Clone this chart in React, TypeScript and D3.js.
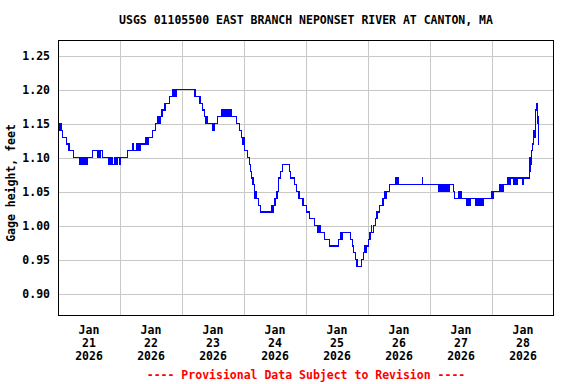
import React, { useMemo } from 'react';
import * as d3 from 'd3';

const WIDTH = 576;
const HEIGHT = 384;
const margin = { l: 58, r: 22, t: 40, b: 68 };

const title = 'USGS 01105500 EAST BRANCH NEPONSET RIVER AT CANTON, MA';
const yLabel = 'Gage height, feet';
const footer = '---- Provisional Data Subject to Revision ----';

const startDate = new Date(2026, 0, 21);
const endDate = new Date(2026, 0, 29);
const yTicks = [0.9, 0.95, 1.0, 1.05, 1.1, 1.15, 1.2, 1.25];
const yDomain = [0.867, 1.273];

// readings where the gage value changes: [hours after Jan 21 00:00, feet]
const stepHours: number[] = [];
const stepValues: number[] = [];
const steps: [number, number][] = [
  [0, 1.15], [0.25, 1.14], [0.5, 1.15], [0.75, 1.14], [1, 1.15], [1.25, 1.14],
  [1.75, 1.13], [3.25, 1.12], [4.25, 1.11], [6, 1.1],
  [8.25, 1.09], [8.5, 1.1], [8.75, 1.09], [9, 1.1], [9.25, 1.09], [9.5, 1.1], [9.75, 1.09],
  [10, 1.1], [10.25, 1.09], [10.5, 1.1], [10.75, 1.09], [11, 1.1], [11.25, 1.09], [11.5, 1.1],
  [13.25, 1.11], [15.5, 1.1], [15.75, 1.11], [16.25, 1.1], [16.5, 1.11], [17.25, 1.1],
  [19.75, 1.09], [20, 1.1], [20.25, 1.09], [20.5, 1.1], [20.75, 1.09], [21, 1.1], [21.25, 1.09],
  [21.75, 1.1], [22, 1.09], [22.25, 1.1], [22.5, 1.09], [23, 1.1],
  [24, 1.09], [24.25, 1.1], [26.75, 1.11], [29, 1.12], [29.25, 1.11],
  [30.5, 1.12], [30.75, 1.11], [31, 1.12], [31.5, 1.11], [31.75, 1.12],
  [34, 1.13], [34.25, 1.12], [34.5, 1.13], [34.75, 1.12], [35, 1.13],
  [36.5, 1.14], [37.75, 1.15],
  [38.5, 1.16], [38.75, 1.15], [39, 1.16], [39.25, 1.15], [39.5, 1.16],
  [40.25, 1.17], [41.25, 1.18], [41.5, 1.17], [41.75, 1.18], [43.25, 1.19],
  [44.5, 1.2], [44.75, 1.19], [45, 1.2], [45.25, 1.19], [45.5, 1.2], [45.75, 1.19], [46, 1.2],
  [53, 1.19], [55, 1.18], [56, 1.17], [56.75, 1.16],
  [57.25, 1.15], [57.5, 1.16], [57.75, 1.15], [60, 1.14], [60.5, 1.15], [61.75, 1.16],
  [63.5, 1.17], [63.75, 1.16], [64, 1.17], [64.5, 1.16], [64.75, 1.17], [65, 1.16], [65.25, 1.17],
  [65.5, 1.16], [65.75, 1.17], [66, 1.16], [66.25, 1.17], [66.5, 1.16], [66.75, 1.17], [67, 1.16],
  [69.25, 1.15], [70.25, 1.14], [71, 1.13], [71.5, 1.12], [71.75, 1.13], [72, 1.12],
  [72.25, 1.11], [73.5, 1.1], [74, 1.09], [74.5, 1.08], [75, 1.07], [75.5, 1.06],
  [76, 1.05], [76.25, 1.04], [76.5, 1.05], [76.75, 1.04], [77.75, 1.03], [78.5, 1.02],
  [82.5, 1.03], [82.75, 1.02], [83, 1.03], [83.25, 1.02], [83.5, 1.03],
  [84, 1.04], [84.75, 1.05], [85.25, 1.06], [85.5, 1.07], [86, 1.08], [87, 1.09],
  [89.5, 1.08], [90, 1.07], [91.5, 1.06], [92.25, 1.05],
  [93, 1.04], [93.25, 1.05], [93.5, 1.04], [94.5, 1.03], [94.75, 1.04], [95, 1.03],
  [96.25, 1.02], [97.5, 1.01], [99.25, 1.0],
  [100.5, 0.99], [100.75, 1.0], [101, 0.99], [101.25, 1.0], [101.5, 0.99],
  [103.25, 0.98], [105.25, 0.97], [108.5, 0.98], [109.5, 0.99], [109.75, 0.98], [110, 0.99],
  [113.25, 0.98], [114, 0.97], [114.5, 0.96], [115.25, 0.95], [115.75, 0.94], [117.5, 0.95],
  [118.25, 0.96], [118.5, 0.97], [118.75, 0.96], [119, 0.97], [119.25, 0.96], [119.5, 0.97],
  [120.25, 0.98], [120.75, 0.99], [121.25, 1.0], [121.5, 0.99], [122, 1.0],
  [122.75, 1.01], [123.5, 1.02], [124.5, 1.03], [125.5, 1.04], [125.75, 1.03], [126, 1.04],
  [126.25, 1.05], [126.5, 1.04], [126.75, 1.05], [127, 1.04], [127.25, 1.05], [128.25, 1.06],
  [130.75, 1.07], [131, 1.06], [131.5, 1.07], [131.75, 1.06], [141, 1.07], [141.25, 1.06],
  [147.5, 1.05], [147.75, 1.06], [148, 1.05], [148.25, 1.06], [148.5, 1.05], [148.75, 1.06],
  [149, 1.05], [149.25, 1.06], [149.5, 1.05], [149.75, 1.06], [150, 1.05], [150.25, 1.06],
  [150.5, 1.05], [150.75, 1.06], [151, 1.05], [151.5, 1.06],
  [153, 1.05], [153.5, 1.04], [155, 1.05], [155.25, 1.04], [155.75, 1.05], [156, 1.04],
  [158, 1.03], [158.25, 1.04], [158.5, 1.03], [158.75, 1.04], [159, 1.03], [159.25, 1.04],
  [159.5, 1.03], [159.75, 1.04],
  [161.5, 1.03], [161.75, 1.04], [162, 1.03], [162.25, 1.04], [162.5, 1.03], [163, 1.04],
  [163.25, 1.03], [163.5, 1.04], [163.75, 1.03], [164, 1.04], [164.25, 1.03], [164.5, 1.04],
  [168, 1.05], [168.25, 1.04], [168.5, 1.05],
  [170.75, 1.06], [171, 1.05], [171.25, 1.06], [171.5, 1.05], [171.75, 1.06], [172, 1.05], [172.25, 1.06],
  [174, 1.07], [174.25, 1.06], [174.5, 1.07], [174.75, 1.06], [175, 1.07],
  [176.5, 1.06], [176.75, 1.07], [177, 1.06], [177.25, 1.07], [177.5, 1.06], [177.75, 1.07],
  [180, 1.06], [180.25, 1.07],
  [182.5, 1.1], [182.75, 1.08], [183, 1.09], [183.25, 1.11], [183.75, 1.12], [184, 1.14],
  [184.5, 1.13], [184.75, 1.17], [185.25, 1.18], [185.5, 1.15], [185.75, 1.16], [186, 1.12],
  [186.25, 1.12],
];
steps.forEach(([h, v]) => {
  stepHours.push(h);
  stepValues.push(v);
});

const FONT = '"DejaVu Sans Mono", "Liberation Mono", monospace';

const App = () => {
  const innerW = WIDTH - margin.l - margin.r;
  const innerH = HEIGHT - margin.t - margin.b;

  const xScale = useMemo(
    () => d3.scaleTime().domain([startDate, endDate]).range([margin.l, margin.l + innerW]),
    [innerW]
  );
  const yScale = useMemo(
    () => d3.scaleLinear().domain(yDomain).range([margin.t + innerH, margin.t]),
    [innerH]
  );

  const points = stepHours.map((h, i) => ({
    t: d3.timeMinute.offset(startDate, Math.round(h * 60)),
    v: stepValues[i],
  }));

  const line = d3
    .line<{ t: Date; v: number }>()
    .x((d) => xScale(d.t))
    .y((d) => yScale(d.v))
    .curve(d3.curveStepAfter);

  const days = d3.timeDay.range(startDate, endDate);
  const gridDays = days.slice(1);

  return (
    <svg
      width={WIDTH}
      height={HEIGHT}
      style={{ position: 'absolute', left: 0, top: 0, background: '#fff' }}
      fontFamily={FONT}
      fontWeight="bold"
    >
      <rect x={0} y={0} width={WIDTH} height={HEIGHT} fill="#fff" />
      <text x={margin.l + innerW / 2} y={24} textAnchor="middle" fontSize={11.5} fill="#000">
        {title}
      </text>

      <g className="grid" shapeRendering="crispEdges">
        {yTicks.map((t) => (
          <line
            key={`y-${t}`}
            x1={margin.l}
            x2={margin.l + innerW}
            y1={Math.round(yScale(t)) + 0.5}
            y2={Math.round(yScale(t)) + 0.5}
            stroke="#c8c8c8"
          />
        ))}
        {gridDays.map((d) => (
          <line
            key={`x-${d.getTime()}`}
            x1={Math.round(xScale(d)) + 0.5}
            x2={Math.round(xScale(d)) + 0.5}
            y1={margin.t}
            y2={margin.t + innerH}
            stroke="#c8c8c8"
          />
        ))}
      </g>

      <path
        d={line(points) || ''}
        fill="none"
        stroke="#0000ff"
        strokeWidth={1.2}
        shapeRendering="crispEdges"
      />

      <rect
        x={margin.l + 0.5}
        y={margin.t + 0.5}
        width={innerW - 1}
        height={innerH - 1}
        fill="none"
        stroke="#000"
        strokeWidth={1.3}
        shapeRendering="crispEdges"
      />

      {yTicks.map((t) => (
        <text key={`yl-${t}`} x={50} y={yScale(t)} dy="0.36em" textAnchor="end" fontSize={11.5}>
          {d3.format('.2f')(t)}
        </text>
      ))}

      <text
        transform={`translate(15, ${margin.t + innerH / 2 + 5}) rotate(-90)`}
        textAnchor="middle"
        fontSize={11.5}
      >
        {yLabel}
      </text>

      {days.map((d) => {
        const x = xScale(d3.timeHour.offset(d, 12));
        return (
          <text key={`xl-${d.getTime()}`} x={x} textAnchor="middle" fontSize={11.5}>
            <tspan x={x} y={334}>
              {d3.timeFormat('%b')(d)}
            </tspan>
            <tspan x={x} y={347}>
              {d3.timeFormat('%d')(d)}
            </tspan>
            <tspan x={x} y={360}>
              {d3.timeFormat('%Y')(d)}
            </tspan>
          </text>
        );
      })}

      <text x={margin.l + innerW / 2} y={379} textAnchor="middle" fontSize={11.5} fill="#ff0000">
        {footer}
      </text>
    </svg>
  );
};

export default App;
